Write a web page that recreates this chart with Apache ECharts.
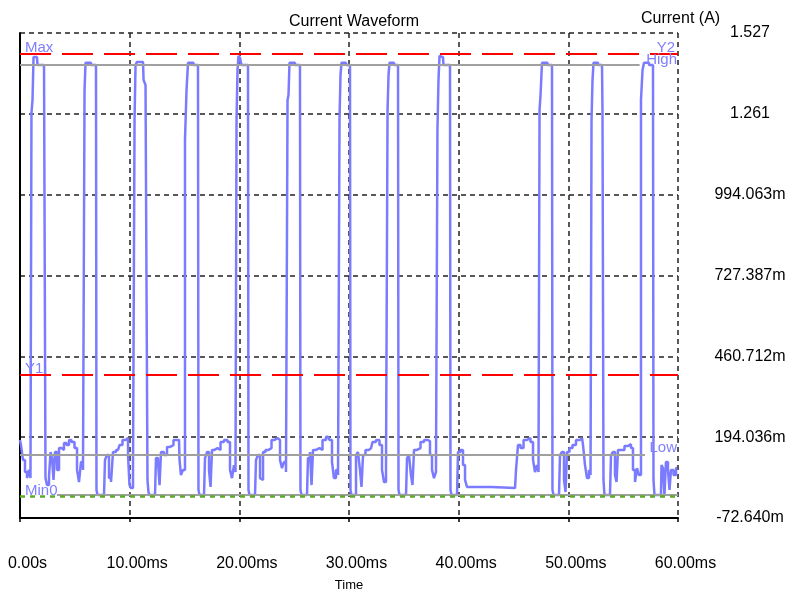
<!DOCTYPE html>
<html><head><meta charset="utf-8">
<script src="https://cdn.jsdelivr.net/npm/echarts@6/dist/echarts.min.js"></script>
<style>html,body{margin:0;padding:0;background:#fff;overflow:hidden}#c{width:793px;height:591px}</style>
</head><body><div id="c"></div>
<script>
// time in ms
const timeMs = [
0.00,0.18,0.36,0.55,0.73,0.91,1.00,1.09,1.19,1.28,1.55,1.64,2.19,2.28,
2.37,2.55,2.74,2.83,3.01,3.10,3.28,3.47,3.65,3.92,4.10,4.38,4.56,4.83,5.11,5.29,5.47,5.65,5.84,
5.93,6.02,6.93,7.02,
7.11,7.66,7.84,8.02,8.21,8.39,8.57,8.94,9.21,9.48,9.76,9.94,10.03,10.21,10.40,
10.49,10.58,10.76,11.22,11.31,11.58,11.67,
11.76,11.85,12.31,12.49,12.68,12.77,12.95,13.31,13.50,13.86,14.13,14.50,14.59,14.77,14.95,
15.14,15.23,15.41,16.23,16.32,
16.41,16.78,16.96,17.14,17.33,17.42,17.60,17.87,18.15,18.42,18.78,19.06,19.24,19.42,19.60,19.70,
19.79,19.88,19.97,20.15,20.24,20.79,20.88,
20.97,21.43,21.61,21.79,21.98,22.07,22.25,22.52,22.80,23.07,23.34,23.62,23.80,23.98,24.16,24.35,
24.44,24.53,24.62,25.53,25.62,
25.72,26.17,26.35,26.54,26.63,26.81,27.17,27.45,27.72,28.09,28.36,28.54,28.72,28.91,29.09,
29.18,29.27,29.36,30.09,30.18,
30.27,30.55,30.73,30.91,31.09,31.19,31.37,31.64,32.01,32.28,32.64,32.92,33.10,33.28,33.47,
33.56,33.65,33.74,34.47,34.56,
34.65,35.20,35.38,35.56,35.74,35.84,36.02,36.38,36.66,37.02,37.29,37.48,37.66,37.84,38.02,
38.11,38.21,38.30,38.57,38.66,39.21,39.30,
39.39,39.85,40.03,40.30,40.49,40.67,40.85,45.14,45.32,45.50,45.78,46.05,46.41,46.69,46.87,47.05,47.23,47.33,
47.42,47.51,47.69,48.51,48.60,
48.69,49.15,49.33,49.51,49.70,49.79,49.97,50.24,50.52,50.88,51.25,51.43,51.61,51.79,51.98,52.07,
52.16,52.25,52.34,53.07,53.16,53.25,
53.34,53.80,53.98,54.16,54.35,54.44,54.62,54.98,55.26,55.62,55.80,55.99,56.17,56.35,56.53,
56.72,56.81,56.99,57.72,57.81,
57.90,58.45,58.54,58.72,58.81,58.99,59.18,59.27,59.45,59.73,59.91
];
// current in A
const currentA = [
0.185,0.168,0.119,0.079,0.059,0.086,0.059,1.264,1.306,1.448,1.448,1.422,1.422,1.422,
0.059,0.036,0.063,0.145,0.125,0.053,0.145,0.086,0.158,0.152,0.175,0.168,0.185,0.178,0.158,0.086,0.046,0.112,0.086,
1.339,1.429,1.422,0.020,
0.003,0.003,0.119,0.135,0.059,0.046,0.145,0.152,0.168,0.185,0.191,0.135,0.036,0.026,0.086,
1.240,1.422,1.432,1.432,1.373,1.356,0.053,
0.013,0.003,0.003,0.125,0.112,0.036,0.145,0.135,0.162,0.168,0.185,0.185,0.119,0.069,0.086,
1.175,1.339,1.429,1.422,0.020,
0.003,0.003,0.125,0.145,0.086,0.030,0.152,0.158,0.152,0.178,0.185,0.178,0.086,0.059,0.102,0.079,
1.240,1.405,1.452,1.445,1.422,1.422,0.020,
0.003,0.003,0.119,0.135,0.059,0.053,0.145,0.152,0.158,0.185,0.191,0.185,0.119,0.092,0.112,0.079,
1.306,1.323,1.429,1.422,0.020,
0.003,0.003,0.125,0.145,0.036,0.152,0.158,0.152,0.185,0.195,0.185,0.112,0.059,0.086,0.069,
1.240,1.389,1.429,1.422,0.020,
0.003,0.003,0.135,0.145,0.086,0.030,0.135,0.152,0.158,0.178,0.185,0.168,0.086,0.046,0.092,
1.273,1.389,1.429,1.422,0.020,
0.003,0.003,0.125,0.135,0.069,0.036,0.152,0.158,0.178,0.185,0.181,0.135,0.086,0.059,0.079,
1.207,1.372,1.452,1.448,1.422,1.422,0.020,
0.003,0.003,0.145,0.152,0.102,0.053,0.030,0.026,0.086,0.168,0.158,0.185,0.191,0.178,0.119,0.079,0.102,0.079,
1.273,1.323,1.429,1.422,0.020,
0.003,0.003,0.135,0.145,0.053,0.013,0.145,0.158,0.168,0.185,0.191,0.168,0.102,0.059,0.086,0.069,
1.240,1.372,1.429,1.422,1.273,0.053,
0.003,0.003,0.135,0.145,0.069,0.046,0.152,0.152,0.165,0.171,0.158,0.086,0.046,0.092,0.069,
1.306,1.405,1.429,1.422,0.053,
0.003,0.003,0.102,0.092,0.003,0.112,0.086,0.020,0.086,0.069,0.092
];
const xTickLabels = ['0.00s','10.00ms','20.00ms','30.00ms','40.00ms','50.00ms','60.00ms'];
const yTickLabels = ['-72.640m','194.036m','460.712m','727.387m','994.063m','1.261','1.527'];
const xMin = 0, xMax = 60, xInterval = 10;
const yMin = -0.07264, yInterval = 0.266676, yMax = yMin + 6 * yInterval;
// cursor / level lines (A) and segment ends (ms)
const cursorY2 = 1.458, cursorY1 = 0.399;
const levelMax = 1.458, levelHigh = 1.422, levelLow = 0.135, levelMin = 0.003, zeroLine = -0.003;
const highEnd = 56.5, lowEnd = 56.99, minStart = 3.37;

const FONT = "'Liberation Sans', Arial, sans-serif";
const LBL = '#8080ff';
const data = timeMs.map((t, i) => [t, currentA[i]]);

const chart = echarts.init(document.getElementById('c'), null, {renderer: 'canvas'});
const tag = (txt, pos, dist) => ({show: true, formatter: txt, position: pos, distance: dist,
  color: LBL, fontSize: 15, fontFamily: FONT});
const hidden = {color: 'rgba(0,0,0,0)', width: 1, type: 'solid'};
chart.setOption({
  animation: false,
  backgroundColor: '#fff',
  title: [
    {text: 'Current Waveform', left: 349, top: 9, textAlign: 'center',
     textStyle: {fontSize: 16, fontWeight: 'normal', color: '#000', fontFamily: FONT}},
    {text: 'Current (A)', left: 636, top: 6,
     textStyle: {fontSize: 16, fontWeight: 'normal', color: '#000', fontFamily: FONT}}
  ],
  grid: {left: 20, right: 115, top: 33, bottom: 73, containLabel: false, outerBoundsMode: 'none'},
  xAxis: {
    type: 'value', min: xMin, max: xMax, interval: xInterval,
    name: 'Time', nameLocation: 'middle', nameGap: 61,
    nameTextStyle: {fontSize: 13, color: '#000', fontFamily: FONT},
    axisLine: {show: true, onZero: false, lineStyle: {color: '#000', width: 2}},
    axisTick: {show: true, length: 4, lineStyle: {color: '#000', width: 1.5}},
    axisLabel: {margin: 38, fontSize: 16, color: '#000', fontFamily: FONT, padding: [0, 0, 0, 15],
      formatter: v => xTickLabels[Math.round((v - xMin) / xInterval)]},
    splitLine: {show: true, lineStyle: {color: '#222', width: 1.5, type: [5, 4]}}
  },
  yAxis: [
    {type: 'value', position: 'right', min: yMin, max: yMax, interval: yInterval,
     axisLine: {show: false}, axisTick: {show: false},
     axisLabel: {margin: 72, align: 'center', fontSize: 16, color: '#000', fontFamily: FONT,
       formatter: v => yTickLabels[Math.round((v - yMin) / yInterval)]},
     splitLine: {show: true, lineStyle: {color: '#222', width: 1.5, type: [5, 4]}}},
    {type: 'value', position: 'left', min: yMin, max: yMax, interval: yInterval,
     axisLine: {show: true, onZero: false, lineStyle: {color: '#000', width: 2}},
     axisTick: {show: false}, axisLabel: {show: false}, splitLine: {show: false}}
  ],
  series: [
    {
      type: 'line', data: [], silent: true, z: 1,
      markLine: {
        silent: true, symbol: ['none', 'none'], animation: false,
        data: [
          [{coord: [xMin, levelHigh], lineStyle: {color: '#a0a0a0', width: 2, type: 'solid'}, label: {show: false}},
           {coord: [highEnd, levelHigh]}],
          [{coord: [xMin, levelLow], lineStyle: {color: '#a0a0a0', width: 2, type: 'solid'}, label: {show: false}},
           {coord: [lowEnd, levelLow]}],
          [{coord: [minStart, levelMin], lineStyle: {color: '#a0a0a0', width: 2, type: 'solid'}, label: {show: false}},
           {coord: [xMax, levelMin]}],
          {yAxis: zeroLine, lineStyle: {color: '#5aac2a', width: 2.5, type: [5, 5]}, label: {show: false}},
          {yAxis: levelMax, lineStyle: hidden, label: tag('Max', 'insideStartTop', [5, -2])},
          {yAxis: levelHigh, lineStyle: hidden, label: tag('High', 'insideEndTop', [1, -2])},
          {yAxis: levelLow, lineStyle: hidden, label: tag('Low', 'insideEndTop', [1, -2])},
          {yAxis: levelMin, lineStyle: hidden, label: tag('Min0', 'insideStartTop', [5, -2])}
        ]
      }
    },
    {
      type: 'line', data: data, showSymbol: false, silent: true, z: 3, step: 'middle',
      lineStyle: {color: '#7b7bff', width: 2.5},
      markLine: {
        silent: true, symbol: ['none', 'none'], animation: false,
        data: [
          {yAxis: cursorY2, lineStyle: {color: '#ff0000', width: 2, type: [31, 11]}, label: tag('Y2', 'insideEndTop', [3, -2])},
          {yAxis: cursorY1, lineStyle: {color: '#ff0000', width: 2, type: [31, 11]}, label: tag('Y1', 'insideStartTop', [5, -2])}
        ]
      }
    }
  ]
});
</script>
</body></html>
